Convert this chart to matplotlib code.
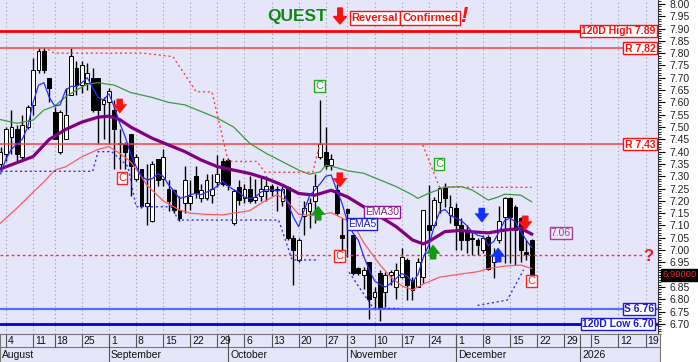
import numpy as np
import pandas as pd
import matplotlib
matplotlib.use("Agg")
import matplotlib.pyplot as plt
from matplotlib.ticker import MultipleLocator, FuncFormatter
from matplotlib.transforms import blended_transform_factory

plt.rcParams["font.family"] = ["Liberation Sans", "DejaVu Sans"]

# ---- data -------------------------------------------------------------------
# session calendar of the feed (Aug 15 and one day in the Oct 27 week missing)
dates = pd.bdate_range("2025-08-01", "2026-01-23")
dates = dates.drop(pd.to_datetime(["2025-08-15", "2025-10-31"]))

opens = [7.35, 7.39, 7.46, 7.49, 7.38, 7.50, 7.59, 7.73, 7.81, 7.70,
         7.56, 7.40, 7.45, 7.63, 7.74, 7.67, 7.68, 7.70, 7.70, 7.595,
         7.60, 7.57, 7.43, 7.43, 7.47, 7.29, 7.33, 7.18, 7.12, 7.37,
         7.29, 7.25, 7.244, 7.163, 7.19, 7.19, 7.30, 7.21, 7.21, 7.224,
         7.278, 7.36, 7.366, 7.11, 7.257, 7.21, 7.25, 7.205, 7.22, 7.24,
         7.26, 7.245, 7.20, 7.258, 7.048, 6.96, 7.14, 7.16, 7.20, 7.38,
         7.40, 7.345, 7.244, 7.06, 7.165, 7.061, 6.926, 6.90, 6.95, 6.81,
         6.905, 6.83, 6.90, 6.851, 6.892, 6.96, 6.878, 6.851, 6.892, 7.102,
         7.102, 7.197, 7.251, 7.142, 7.17, 7.10, 7.08, 7.05, 7.04, 7.00,
         7.054, 6.95, 7.04, 7.135, 7.21, 7.176, 7.13, 6.993, 7.04]
highs = [7.42, 7.50, 7.57, 7.51, 7.55, 7.59, 7.78, 7.82, 7.82, 7.70,
         7.58, 7.57, 7.66, 7.82, 7.77, 7.77, 7.76, 7.74, 7.70, 7.62,
         7.66, 7.61, 7.49, 7.44, 7.47, 7.39, 7.33, 7.35, 7.36, 7.37,
         7.41, 7.285, 7.25, 7.22, 7.34, 7.285, 7.34, 7.27, 7.31, 7.31,
         7.386, 7.373, 7.373, 7.25, 7.284, 7.27, 7.30, 7.29, 7.30, 7.30,
         7.27, 7.26, 7.26, 7.26, 7.06, 7.05, 7.20, 7.21, 7.31, 7.61,
         7.50, 7.39, 7.27, 7.13, 7.17, 7.061, 6.93, 6.93, 6.95, 6.85,
         6.92, 6.91, 6.92, 6.946, 7.007, 6.966, 6.892, 6.966, 7.163, 7.264,
         7.217, 7.258, 7.271, 7.224, 7.19, 7.13, 7.10, 7.08, 7.05, 7.06,
         7.06, 7.01, 7.18, 7.217, 7.217, 7.183, 7.135, 7.04, 7.047]
lows = [7.32, 7.36, 7.39, 7.36, 7.37, 7.49, 7.55, 7.72, 7.72, 7.60,
        7.45, 7.39, 7.45, 7.63, 7.63, 7.64, 7.65, 7.56, 7.43, 7.45,
        7.43, 7.33, 7.33, 7.33, 7.22, 7.28, 7.17, 7.10, 7.115, 7.26,
        7.26, 7.16, 7.15, 7.12, 7.15, 7.163, 7.21, 7.197, 7.204, 7.19,
        7.258, 7.26, 7.244, 7.10, 7.183, 7.19, 7.19, 7.19, 7.20, 7.20,
        7.22, 7.16, 7.18, 7.04, 6.86, 6.95, 7.06, 7.09, 7.11, 7.37,
        7.33, 7.325, 7.142, 6.98, 6.97, 6.899, 6.90, 6.84, 6.72, 6.76,
        6.71, 6.77, 6.86, 6.80, 6.885, 6.797, 6.797, 6.85, 6.865, 7.00,
        7.095, 7.149, 7.176, 7.109, 7.00, 7.00, 6.99, 6.98, 6.98, 6.99,
        6.92, 6.885, 7.03, 6.946, 6.946, 6.94, 6.95, 6.959, 6.90]
closes = [7.40, 7.49, 7.50, 7.39, 7.51, 7.58, 7.73, 7.81, 7.73, 7.66,
          7.45, 7.56, 7.55, 7.79, 7.67, 7.75, 7.72, 7.57, 7.57, 7.61,
          7.645, 7.49, 7.43, 7.40, 7.34, 7.38, 7.18, 7.19, 7.35, 7.285,
          7.38, 7.20, 7.163, 7.13, 7.285, 7.22, 7.23, 7.244, 7.285, 7.25,
          7.31, 7.27, 7.264, 7.24, 7.203, 7.25, 7.20, 7.215, 7.25, 7.26,
          7.24, 7.25, 7.25, 7.048, 7.00, 7.04, 7.17, 7.19, 7.26, 7.43,
          7.34, 7.37, 7.149, 7.05, 7.15, 6.905, 6.905, 6.92, 6.80, 6.83,
          6.763, 6.90, 6.912, 6.919, 6.973, 6.858, 6.838, 6.953, 7.163, 7.081,
          7.203, 7.251, 7.21, 7.176, 7.10, 7.04, 7.04, 7.045, 7.02, 7.05,
          6.925, 6.98, 7.12, 7.21, 7.135, 7.08, 7.00, 6.986, 6.90]

ema5 = [7.31, 7.37, 7.41, 7.43, 7.45, 7.50, 7.60, 7.67, 7.68, 7.62,
        7.585, 7.59, 7.65, 7.665, 7.665, 7.68, 7.70, 7.66, 7.62, 7.61,
        7.635, 7.58, 7.515, 7.46, 7.39, 7.34, 7.30, 7.285, 7.29, 7.31,
        7.30, 7.265, 7.24, 7.21, 7.215, 7.225, 7.23, 7.225, 7.235, 7.245,
        7.26, 7.28, 7.26, 7.245, 7.235, 7.215, 7.21, 7.215, 7.235, 7.245,
        7.245, 7.24, 7.245, 7.19, 7.135, 7.095, 7.16, 7.22, 7.245, 7.27,
        7.30, 7.305, 7.245, 7.19, 7.115, 7.07, 7.04, 6.975, 6.92, 6.875,
        6.86, 6.85, 6.865, 6.885, 6.905, 6.895, 6.87, 6.90, 6.97, 7.02,
        7.095, 7.155, 7.165, 7.14, 7.13, 7.12, 7.10, 7.075, 7.06, 7.055,
        7.02, 7.035, 7.075, 7.12, 7.13, 7.115, 7.075, 7.04, 7.01]

ema30_idx = [0, 6, 9, 12, 15, 18, 20, 22, 24, 28, 31, 34, 37, 40, 43, 46, 49,
             52, 55, 58, 61, 64, 67, 70, 73, 76, 78, 79, 82, 85, 87, 90, 93, 96, 98]
ema30_val = [7.33, 7.38, 7.45, 7.49, 7.52, 7.54, 7.544, 7.53, 7.50, 7.454,
             7.427, 7.40, 7.366, 7.339, 7.325, 7.311, 7.291, 7.264, 7.23, 7.223,
             7.243, 7.216, 7.176, 7.136, 7.095, 7.041, 7.025, 7.035, 7.075, 7.08,
             7.074, 7.07, 7.081, 7.088, 7.065]

upper_idx = [0, 3, 6, 8, 10, 12, 14, 16, 18, 21, 24, 28, 31, 34, 37, 40, 43,
             46, 49, 52, 55, 57, 59, 60, 62, 64, 67, 70, 73, 76, 77, 79, 82,
             85, 87, 90, 92, 93, 96, 98]
upper_val = [7.53, 7.515, 7.528, 7.569, 7.585, 7.623, 7.65, 7.674, 7.68, 7.67,
             7.64, 7.62, 7.60, 7.59, 7.563, 7.536, 7.50, 7.433, 7.393, 7.359,
             7.325, 7.308, 7.318, 7.345, 7.335, 7.322, 7.312, 7.285, 7.258, 7.224,
             7.21, 7.231, 7.255, 7.258, 7.244, 7.203, 7.217, 7.227, 7.223, 7.196]

lower_idx = [0, 3, 6, 8, 10, 12, 15, 18, 20, 22, 24, 26, 27, 30, 33, 35, 38,
             41, 43, 46, 48, 51, 53, 55, 58, 61, 63, 65, 67, 70, 72, 74, 76,
             78, 81, 85, 88, 90, 93, 96, 98]
lower_val = [7.11, 7.17, 7.235, 7.277, 7.325, 7.338, 7.379, 7.409, 7.42, 7.393,
             7.359, 7.298, 7.264, 7.20, 7.163, 7.15, 7.145, 7.143, 7.15, 7.16,
             7.19, 7.225, 7.196, 7.145, 7.14, 7.152, 7.13, 7.11, 7.03, 6.94,
             6.89, 6.855, 6.838, 6.862, 6.89, 6.903, 6.912, 6.925, 6.935, 6.939,
             6.925]

# trailing stops (NaN = no stop drawn)
stop_hi_idx = [8.75, 10, 26.3, 31.8, 36.1, 39, 42, 47.3, 48.8, 57.6, 58.9,
               59.5, 77.9, 81, 98]
stop_hi_val = [7.815, 7.80, 7.80, 7.786, 7.643, 7.643, 7.36, 7.36, 7.316, 7.316,
               7.43, np.nan, 7.427, 7.255, 7.255]
stop_lo_idx = [0, 17.0, 18.0, 20.5, 23.5, 25.0, 31.5, 32.8, 51.3, 53.8, 58.7,
               59.5, 64.3, 68.8, 73.5, 74.5, 88.0, 93.5, 96.5]
stop_lo_val = [7.32, 7.32, 7.40, 7.40, 7.34, 7.176, 7.176, 7.122, 7.122, 6.96,
               6.96, np.nan, 6.91, 6.763, 6.763, np.nan, 6.775, 6.797, 6.92]

high_120d = 7.89
res_levels = [7.82, 7.43]
sup_level = 6.76
low_120d = 6.70
pivot_level = 6.98
last_price = 6.90
ema30_last = 7.06

# signals: (session index, price)
red_down = [(22.0, 7.585), (62.6, 7.285), (96.8, 7.11)]
green_up = [(58.6, 7.15), (79.8, 6.992)]
blue_down = [(88.8, 7.142)]
blue_up = [(91.8, 6.98)]
red_c = [(22.4, 7.293), (62.6, 6.976), (97.9, 6.874)]
green_c = [(58.9, 7.667), (80.9, 7.35)]

# ---- figure -----------------------------------------------------------------
W, H = 698, 362
fig = plt.figure(figsize=(W / 100, H / 100), dpi=100, facecolor="white")
ax = fig.add_axes([0, 28 / H, 658 / W, 334 / H], facecolor="#E6E6FA")
axd = fig.add_axes([0, 0, 660 / W, 28 / H], facecolor="#E6E6FA")

x0, x1 = -0.107, 121.3
ax.set_xlim(x0, x1)
ax.set_ylim(6.659, 8.016)
axd.set_xlim(x0, x0 + (x1 - x0) * 660 / 658)
axd.set_ylim(0, 1)

mondays = [i for i, d in enumerate(dates) if d.weekday() == 0]
for m in mondays:
    ax.axvline(m, color="#9A9AAA", lw=0.8, ls=(0, (1, 2.5)), zorder=0)

# candles
n = len(closes)
xs = np.arange(n)
o = np.array(opens); c = np.array(closes)
ax.vlines(xs, lows, highs, color="black", lw=1.0, zorder=2)
body_lo = np.minimum(o, c)
body_h = np.maximum(np.abs(c - o), 0.004)
up = c >= o
ax.bar(xs, body_h, bottom=body_lo, width=0.7,
       color=np.where(up, "white", "black"), edgecolor="black", lw=0.7, zorder=3)

# levels
ax.axhline(high_120d, color="#FF0000", lw=2.0, zorder=4)
for lv in res_levels:
    ax.axhline(lv, color="#FF4040", lw=1.1, zorder=4)
ax.axhline(sup_level, color="#5A6BFF", lw=1.6, zorder=4)
ax.axhline(low_120d, color="#0000D0", lw=2.0, zorder=4)
ax.plot([x0, 119.5 - 1.2], [pivot_level, pivot_level], color="#FF3030",
        lw=1.0, ls=(0, (2, 2)), zorder=4)

# moving averages / bands / stops
ax.plot(upper_idx, upper_val, color="#3C9A3C", lw=0.9, zorder=5)
ax.plot(lower_idx, lower_val, color="#FF5A5A", lw=0.9, zorder=5)
ax.plot(ema30_idx, ema30_val, color="#800080", lw=2.3, zorder=6)
ax.plot(xs, ema5, color="#2B2BFF", lw=0.9, zorder=6)
ax.plot(stop_hi_idx, stop_hi_val, color="#FF4040", lw=1.0, ls=(0, (1.5, 2)), zorder=5)
ax.plot(stop_lo_idx, stop_lo_val, color="#3030FF", lw=1.0, ls=(0, (1.5, 2)), zorder=5)


def arrow(x, y, color, down=True):
    d = 0.029 if down else -0.029
    ax.annotate("", xy=(x, y - d), xytext=(x, y + d),
                arrowprops=dict(arrowstyle="simple,head_width=0.95,head_length=0.6,tail_width=0.42",
                                fc=color, ec=color, lw=0.3, shrinkA=0, shrinkB=0,
                                mutation_scale=10.5), zorder=8)


def boxed(x, y, s, color, size=8, bold=False, fc="white", transform=None, ha="center"):
    kw = dict(transform=transform) if transform is not None else {}
    return ax.text(x, y, s, color=color, fontsize=size, ha=ha, va="center",
                   fontweight="bold" if bold else "normal", zorder=9,
                   bbox=dict(boxstyle="square,pad=0.12", fc=fc, ec=color, lw=1.0), **kw)


for x, y in red_down:
    arrow(x, y, "#FF1010", True)
for x, y in green_up:
    arrow(x, y, "#119911", False)
for x, y in blue_down:
    arrow(x, y, "#1030FF", True)
for x, y in blue_up:
    arrow(x, y, "#1030FF", False)
for x, y in red_c:
    boxed(x, y, "C", "#FF2020", size=8)
for x, y in green_c:
    boxed(x, y, "C", "#22AA22", size=8)

boxed(70.4, 7.154, "EMA30", "#8A1A8A", size=7.5)
boxed(66.7, 7.106, "EMA5", "#1A1AE0", size=7.5)
boxed(103.4, ema30_last + 0.009, f"{ema30_last:.2f}", "#A040A0", size=7.5, fc="#EEE6F5")
ax.text(119.5, pivot_level - 0.005, "?", color="#FF1010", fontsize=12,
        fontweight="bold", ha="center", va="center", zorder=9)

# right-hand level tags
tr = blended_transform_factory(ax.transAxes, ax.transData)
boxed(0.996, high_120d, f"120D High {high_120d:.2f}", "#FF1010", size=7.5, bold=True,
      transform=tr, ha="right")
for lv in res_levels:
    boxed(0.996, lv, "R " + f"{lv:.2f}".replace(".", ","), "#FF1010", size=7.5,
          bold=True, transform=tr, ha="right")
boxed(0.994, sup_level, f"S {sup_level:.2f}", "#1A1AE0", size=7.5, bold=True,
      transform=tr, ha="right")
boxed(0.994, low_120d, f"120D Low {low_120d:.2f}", "#1A1AE0", size=7.5, bold=True,
      transform=tr, ha="right")
ax.text(1.007, last_price, f"{last_price:.5f}", transform=tr, color="#FF2020",
        fontsize=6.8, ha="left", va="center", clip_on=False, zorder=9,
        bbox=dict(boxstyle="square,pad=0.15", fc="black", ec="black"))

# headline
fig.text(297 / W, 1 - 17 / H, "QUEST", color="#118811", fontsize=12.5,
         fontweight="bold", ha="center", va="center")
fig.patches.append(matplotlib.patches.FancyArrow(
    340 / W, 1 - 8 / H, 0, -16 / H, width=4.5 / W, head_width=13 / W,
    head_length=7.5 / H, length_includes_head=True, transform=fig.transFigure,
    fc="#FF1010", ec="#FF1010"))
for px, s in [(375, "Reversal"), (430, "Confirmed")]:
    fig.text(px / W, 1 - 18 / H, s, color="#FF1010", fontsize=8, fontweight="bold",
             ha="center", va="center",
             bbox=dict(boxstyle="square,pad=0.15", fc="white", ec="#FF1010", lw=1.0))
fig.text(464 / W, 1 - 17 / H, "!", color="#FF1010", fontsize=16, fontweight="bold",
         style="italic", ha="center", va="center")


# y axis on the right; the last-price tag stands in for its own tick label
def price_label(v, pos):
    return "" if abs(v - last_price) < 1e-6 else f"{v:.2f}"


ax.yaxis.tick_right()
ax.yaxis.set_major_locator(MultipleLocator(0.05))
ax.yaxis.set_minor_locator(MultipleLocator(0.01))
ax.yaxis.set_major_formatter(FuncFormatter(price_label))
ax.tick_params(axis="y", which="major", length=5, width=0.8, labelsize=7.5,
               labelcolor="#222222", pad=3)
ax.tick_params(axis="y", which="minor", length=2.5, width=0.6)
ax.tick_params(axis="x", bottom=False, labelbottom=False)
for side in ["top", "left", "bottom"]:
    ax.spines[side].set_visible(False)
ax.spines["right"].set_color("#333333")

# date rows under the plot
axd.set_xticks([]); axd.set_yticks([])
for s in axd.spines.values():
    s.set_color("#777777"); s.set_linewidth(0.8)
mid = 15 / 28
axd.axhline(mid, color="#777777", lw=0.8)
for m in mondays:
    axd.plot([m, m], [mid, 1], color="#555555", lw=0.8)
    axd.text(m + 0.35, (mid + 1) / 2, str(dates[m].day), fontsize=7.5,
             ha="left", va="center", color="#111111")
month_starts = [i for i in range(1, len(dates)) if dates[i].month != dates[i - 1].month]
names = {8: "August", 9: "September", 10: "October", 11: "November", 12: "December"}
axd.text(0.3, mid / 2, "August", fontsize=7.5, ha="left", va="center", color="#111111")
for ms in month_starts:
    d = dates[ms]
    axd.plot([ms, ms], [0, 1], color="#555555", lw=0.8)
    label = names.get(d.month, str(d.year))
    axd.text(ms + 0.35, mid / 2, label, fontsize=7.5, ha="left", va="center",
             color="#111111")

fig.savefig("out.png", dpi=100, facecolor="white")
